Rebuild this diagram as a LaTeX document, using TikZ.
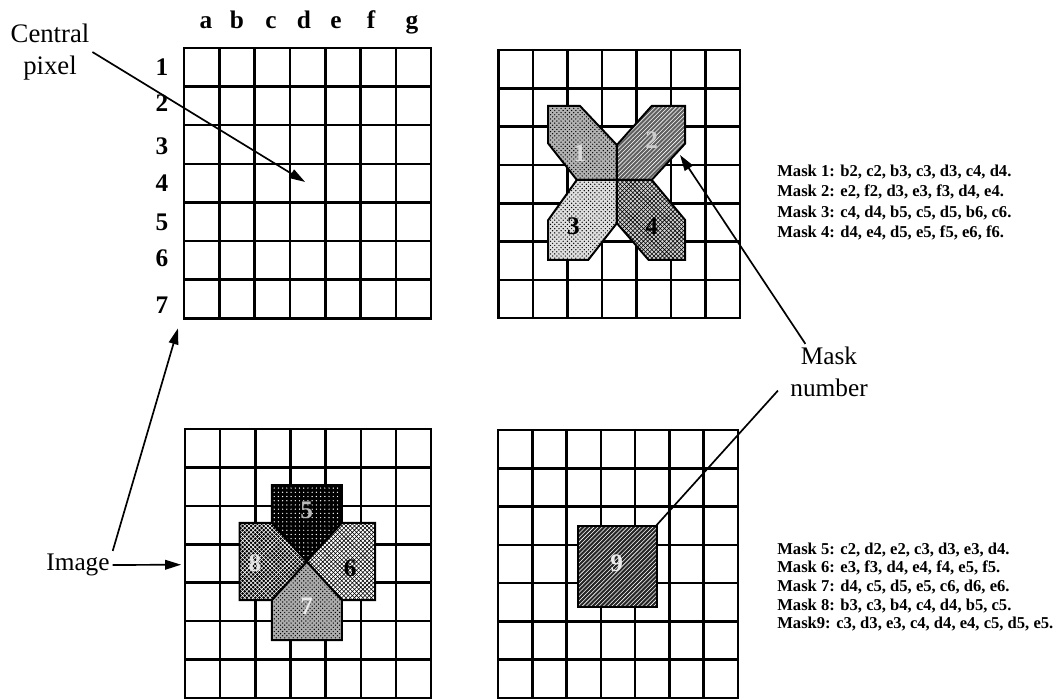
\documentclass[tikz,border=0pt]{standalone}
\usepackage{fontspec}
\setmainfont{Liberation Serif}
\usepackage{tikz}
\usetikzlibrary{arrows.meta, patterns}
\tikzset{
  gridline/.style={line width=1.8pt, line cap=rect},
  pin/.style={-{Triangle[length=4mm,width=2.4mm]}, line width=1.2pt},
  lead/.style={line width=1.2pt},
  callout/.style={font=\fontsize{18}{23}\selectfont, align=center, inner sep=2pt},
  axislbl/.style={font=\fontsize{18}{18}\selectfont\bfseries, inner sep=0pt},
  masklist/.style={font=\fontsize{11.8}{14.6}\selectfont\bfseries, align=left, anchor=west, inner sep=0pt},
  masklabel/.style={font=\fontsize{18}{18}\selectfont\bfseries, inner sep=0pt},
  maskpoly/.style={draw=black, line width=1.4pt, line join=miter},
  mA/.style={maskpoly, preaction={fill=gray!60}, pattern=crosshatch dots, pattern color=black},
  mB/.style={maskpoly, preaction={fill=gray!75!black}, pattern=north east lines, pattern color=white},
  mC/.style={maskpoly, preaction={fill=gray!25}, pattern=crosshatch dots, pattern color=black},
  mD/.style={maskpoly, preaction={fill=gray!35}, pattern=crosshatch, pattern color=black},
  mE/.style={maskpoly, preaction={fill=black}, pattern=dots, pattern color=white},
  mF/.style={maskpoly, preaction={fill=white}, pattern=crosshatch, pattern color=black},
  mG/.style={maskpoly, preaction={fill=gray!65}, pattern=crosshatch dots, pattern color=black},
  mH/.style={maskpoly, preaction={fill=black}, pattern=crosshatch, pattern color=white},
  mI/.style={maskpoly, preaction={fill=black!85}, pattern=north east lines, pattern color=white}
}
\newcommand{\pixgrid}{%
  \foreach \i in {0,...,7} {
    \draw[gridline] (\i,0) -- (\i,7);
    \draw[gridline] (0,\i) -- (7,\i);
  }}

\begin{document}
\begin{tikzpicture}[x=0.025cm, y=-0.025cm]
\useasboundingbox (0,0) rectangle (1056,699);

% image grid, top left
\begin{scope}[shift={(184,48)}, x=0.8825cm, y=-0.965cm]
  \pixgrid
  \coordinate (cpix) at (3.43,3.47);
  \coordinate (imgtip) at (-0.17,7.26);
\end{scope}
\foreach \c/\xx in {a/206,b/237,c/271,d/304,e/336,f/371,g/412}
  \node[axislbl, anchor=base] (col\c) at (\xx,28) {\c};
\foreach \r/\yy in {1/67,2/103,3/146,4/183,5/222,6/258,7/305}
  \node[axislbl] (row\r) at (162,\yy) {\r};

% masks 1-4
\begin{scope}[shift={(498.5,50)}, x=0.8625cm, y=-0.9575cm]
  \pixgrid
  \draw[mA] (1.44,1.46) -- (2.36,1.46) -- (3.43,2.48) -- (3.43,3.39) -- (2.27,3.39) -- (1.44,2.44) -- cycle;
  \draw[mB] (4.44,1.46) -- (5.41,1.46) -- (5.41,2.44) -- (4.44,3.39) -- (3.43,3.39) -- (3.43,2.48) -- cycle;
  \draw[mC] (1.44,4.44) -- (2.27,3.39) -- (3.43,3.39) -- (3.43,4.52) -- (2.60,5.48) -- (1.44,5.48) -- cycle;
  \draw[mD] (3.43,3.39) -- (4.44,3.39) -- (5.41,4.44) -- (5.41,5.48) -- (4.35,5.48) -- (3.43,4.52) -- cycle;
  \node[masklabel, text=gray!30] (n1) at (2.36,2.70) {1};
  \node[masklabel, text=gray!40] (n2) at (4.44,2.35) {2};
  \node[masklabel] (n3) at (2.17,4.61) {3};
  \node[masklabel] (n4) at (4.44,4.61) {4};
  \coordinate (mtip) at (5.26,2.74);
\end{scope}

% masks 5-8
\begin{scope}[shift={(185,429)}, x=0.8786cm, y=-0.9607cm]
  \pixgrid
  \draw[mE] (2.47,1.46) -- (4.46,1.46) -- (4.46,2.44) -- (3.46,3.45) -- (2.47,2.44) -- cycle;
  \draw[mF] (4.46,2.44) -- (5.41,2.44) -- (5.41,4.45) -- (4.46,4.45) -- (3.46,3.45) -- cycle;
  \draw[mG] (3.46,3.45) -- (4.46,4.45) -- (4.46,5.49) -- (2.47,5.49) -- (2.47,4.45) -- cycle;
  \draw[mH] (1.55,2.44) -- (2.47,2.44) -- (3.46,3.45) -- (2.47,4.45) -- (1.55,4.45) -- cycle;
  \node[masklabel, text=gray!55] (n5) at (3.46,2.11) {5};
  \node[masklabel] (n6) at (4.70,3.63) {6};
  \node[masklabel, text=gray!15] (n7) at (3.46,4.62) {7};
  \node[masklabel, text=gray!20] (n8) at (1.99,3.49) {8};
  \coordinate (gridin) at (-0.11,3.53);
\end{scope}

% mask 9
\begin{scope}[shift={(498,430)}, x=0.857cm, y=-0.957cm]
  \pixgrid
  \draw[mI] (2.34,2.51) rectangle (4.63,4.61);
  \node[masklabel, text=gray!15] (n9) at (3.46,3.48) {9};
  \coordinate (m9corner) at (4.58,2.53);
\end{scope}

\node[callout, font=\fontsize{19}{23}\selectfont] (central) at (50,52) {Central\\pixel};
\node[callout] (image) at (78,565) {Image};
\node[callout, text width=2.4cm] (masknum) at (829,372) {Mask\\number};

\node[masklist] (listA) at (777,202.5) {Mask 1: b2, c2, b3, c3, d3, c4, d4.\\Mask 2: e2, f2, d3, e3, f3, d4, e4.\\Mask 3: c4, d4, b5, c5, d5, b6, c6.\\Mask 4: d4, e4, d5, e5, f5, e6, f6.};
\node[masklist, font=\fontsize{11.8}{13.2}\selectfont\bfseries] (listB) at (777,587) {Mask 5: c2, d2, e2, c3, d3, e3, d4.\\Mask 6: e3, f3, d4, e4, f4, e5, f5.\\Mask 7: d4, c5, d5, e5, c6, d6, e6.\\Mask 8: b3, c3, b4, c4, d4, b5, c5.\\Mask9: c3, d3, e3, c4, d4, e4, c5, d5, e5.};

\draw[pin] (central.east) -- (cpix);
\draw[pin] (image.east) -- (gridin);
\draw[pin] (image.north east) -- (imgtip);
\draw[pin] (masknum.130) -- (mtip);
\draw[lead] (masknum.200) -- (m9corner);
\end{tikzpicture}
\end{document}
